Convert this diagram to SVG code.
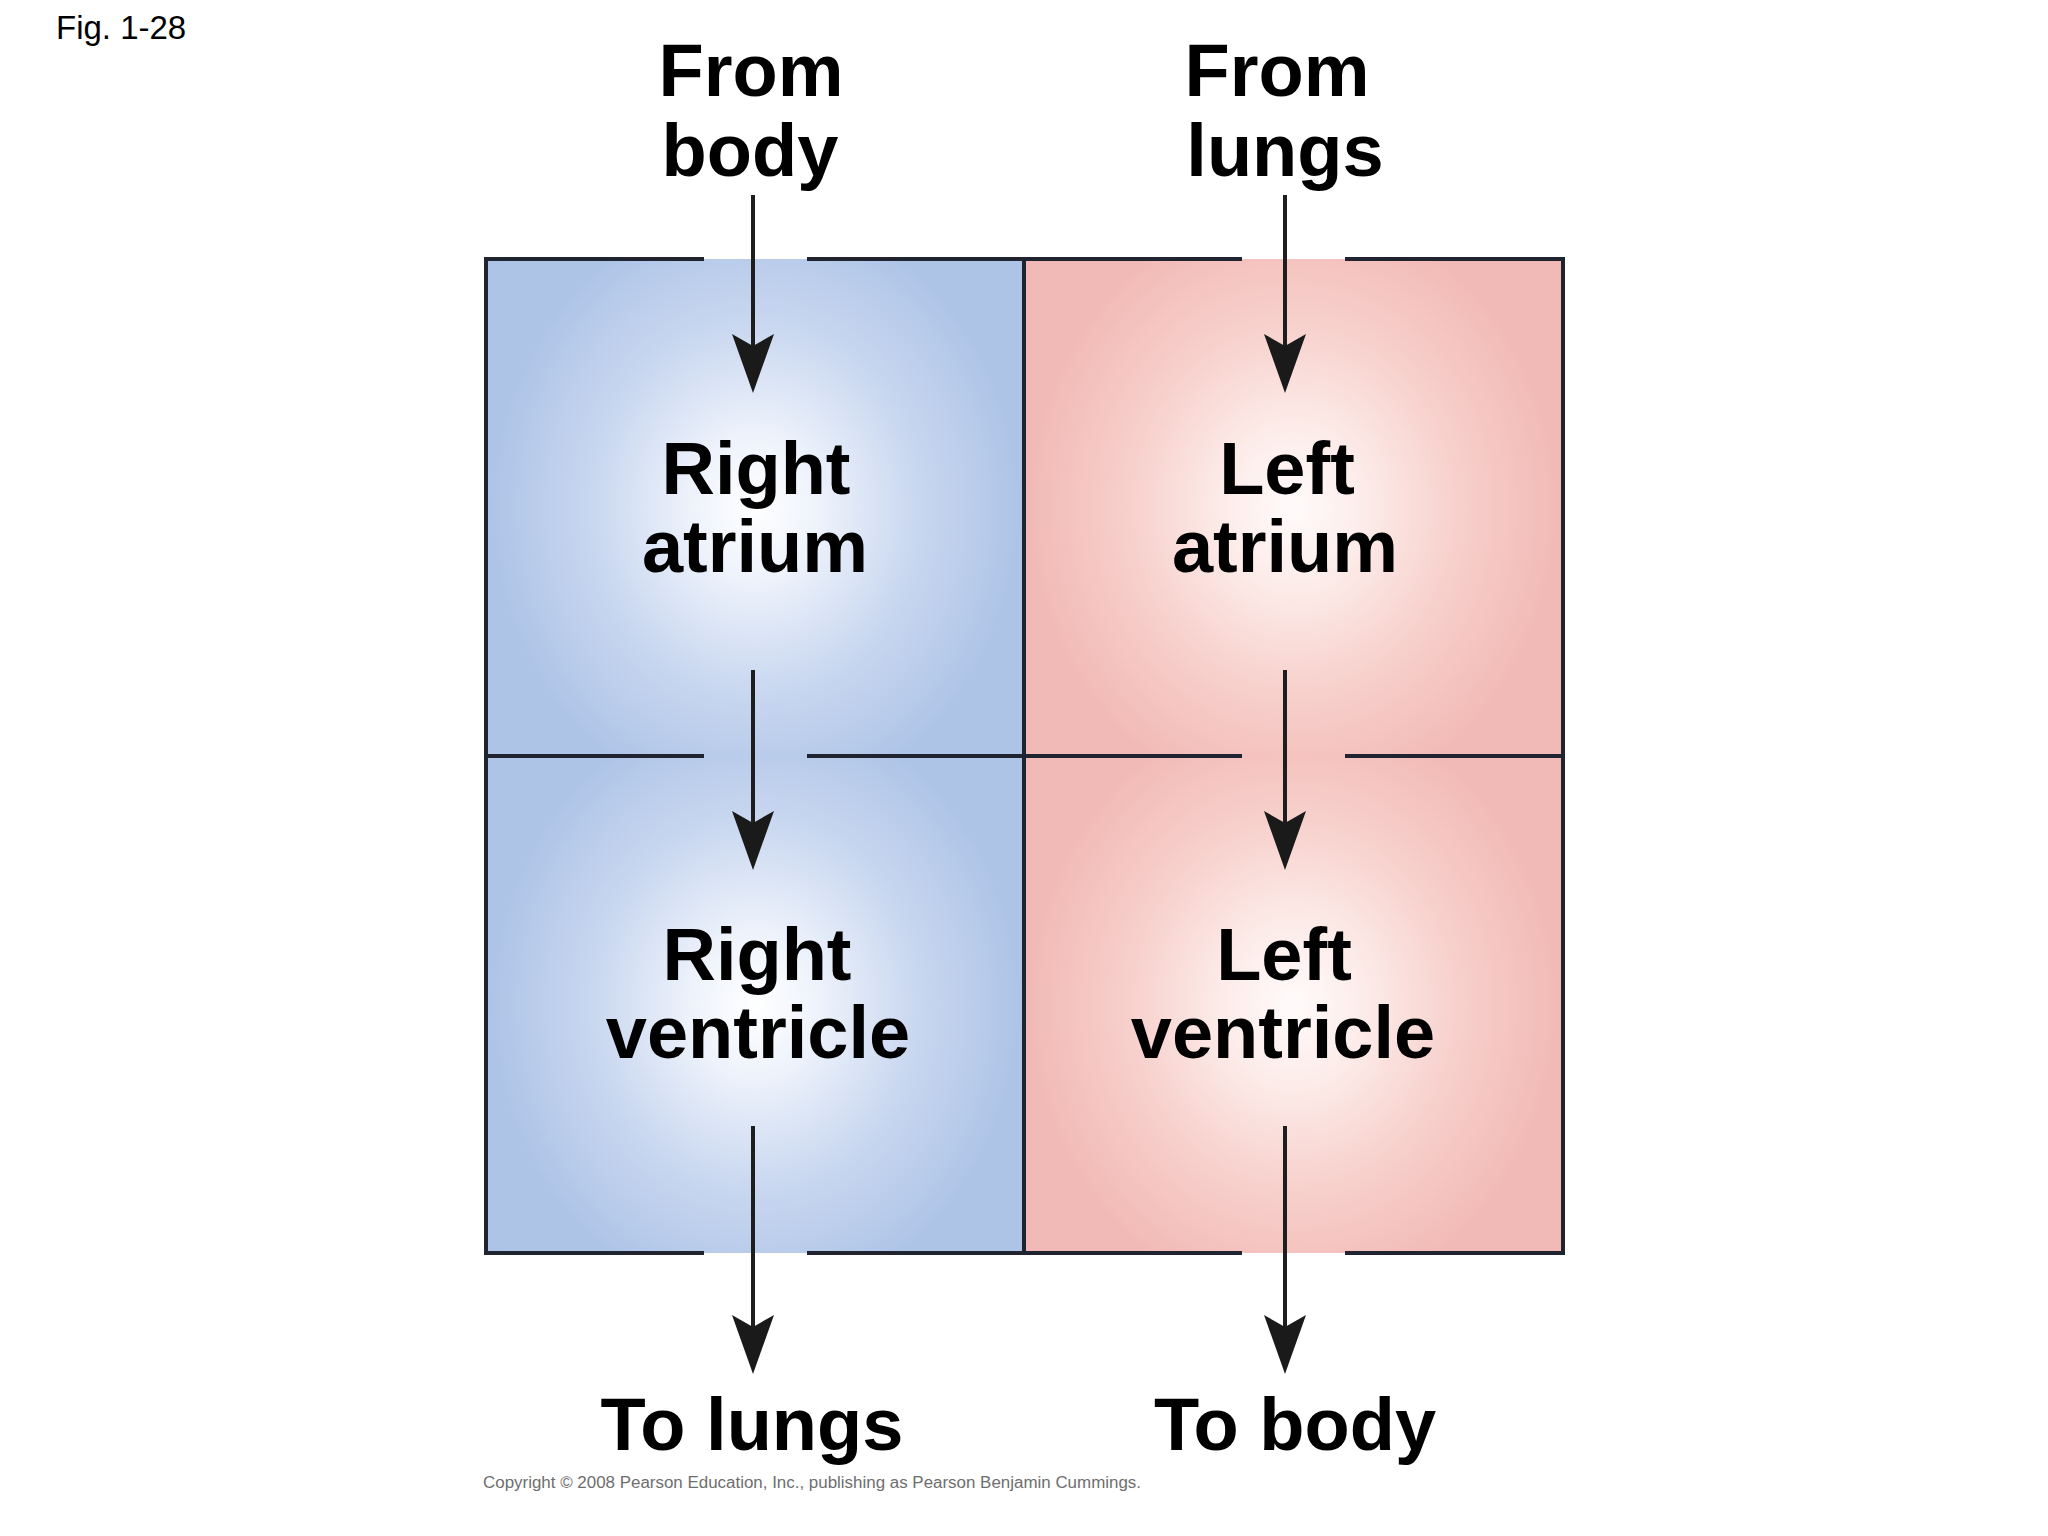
<svg xmlns="http://www.w3.org/2000/svg" width="2048" height="1536" viewBox="0 0 2048 1536">
  <style>
    .lbl { font-family: "Liberation Sans", Arial, sans-serif; font-weight: bold; font-size: 74px; fill: #000; text-anchor: middle; }
    .fig { font-family: "Liberation Sans", Arial, sans-serif; font-size: 33px; fill: #000; }
    .copy { font-family: "Liberation Sans", Arial, sans-serif; font-size: 16px; fill: #6e6e6e; }
    .border { fill: none; stroke: #1f2430; stroke-width: 4; stroke-linecap: butt; }
    .aline { stroke: #1e1e1e; stroke-width: 4; fill: none; }
    .ahead { fill: #1a1a1a; }
  </style>
  <defs>
    <radialGradient id="blueGlow" cx="0.5" cy="0.5" r="0.5" fx="0.5" fy="0.5" gradientTransform="translate(0.5 0.5) scale(0.98 1.2) translate(-0.5 -0.5)">
      <stop offset="0" stop-color="#ffffff"/>
      <stop offset="0.25" stop-color="#edf2fb"/>
      <stop offset="0.6" stop-color="#cad8f0"/>
      <stop offset="1" stop-color="#aec4e7"/>
    </radialGradient>
    <radialGradient id="pinkGlow" cx="0.5" cy="0.5" r="0.5" fx="0.5" fy="0.5" gradientTransform="translate(0.5 0.5) scale(0.98 1.2) translate(-0.5 -0.5)">
      <stop offset="0" stop-color="#fffbfb"/>
      <stop offset="0.28" stop-color="#fcebe8"/>
      <stop offset="0.62" stop-color="#f7d0cc"/>
      <stop offset="1" stop-color="#f2bab6"/>
    </radialGradient>
  </defs>
  <rect x="0" y="0" width="2048" height="1536" fill="#ffffff"/>

  <text class="fig" x="56" y="39">Fig. 1-28</text>

  <g id="right-atrium">
    <rect x="486" y="259" width="538" height="497" fill="url(#blueGlow)"/>
    <text class="lbl" x="756" y="494">Right</text>
    <text class="lbl" x="755" y="572">atrium</text>
  </g>
  <g id="left-atrium">
    <rect x="1024" y="259" width="539" height="497" fill="url(#pinkGlow)"/>
    <text class="lbl" x="1287" y="494">Left</text>
    <text class="lbl" x="1285" y="572">atrium</text>
  </g>
  <g id="right-ventricle">
    <rect x="486" y="756" width="538" height="497" fill="url(#blueGlow)"/>
    <text class="lbl" x="757" y="980">Right</text>
    <text class="lbl" x="758" y="1058">ventricle</text>
  </g>
  <g id="left-ventricle">
    <rect x="1024" y="756" width="539" height="497" fill="url(#pinkGlow)"/>
    <text class="lbl" x="1284" y="980">Left</text>
    <text class="lbl" x="1283" y="1058">ventricle</text>
  </g>

  <g id="heart-walls">
    <path class="border" d="M704,259 H486 V1253 H704 M807,1253 H1242 M1345,1253 H1563 V259 H1345 M1242,259 H807 M1024,259 V1253 M486,756 H704 M807,756 H1242 M1345,756 H1563"/>
  </g>

  <g id="from-body">
    <text class="lbl" x="751" y="96">From</text>
    <text class="lbl" x="750" y="176">body</text>
  </g>
  <g id="from-lungs">
    <text class="lbl" x="1277" y="96">From</text>
    <text class="lbl" x="1285" y="176">lungs</text>
  </g>
  <g id="to-lungs">
    <text class="lbl" x="752" y="1450">To lungs</text>
  </g>
  <g id="to-body">
    <text class="lbl" x="1295" y="1450">To body</text>
  </g>

  <g id="connectors">
    <line class="aline" x1="753" y1="195" x2="753" y2="350"/>
    <path class="ahead" d="M753,393 L732,334 L753,346 L774,334 Z"/>
    <line class="aline" x1="753" y1="670" x2="753" y2="825"/>
    <path class="ahead" d="M753,870 L732,811 L753,823 L774,811 Z"/>
    <line class="aline" x1="753" y1="1126" x2="753" y2="1330"/>
    <path class="ahead" d="M753,1374 L732,1315 L753,1327 L774,1315 Z"/>

    <line class="aline" x1="1285" y1="195" x2="1285" y2="350"/>
    <path class="ahead" d="M1285,393 L1264,334 L1285,346 L1306,334 Z"/>
    <line class="aline" x1="1285" y1="670" x2="1285" y2="825"/>
    <path class="ahead" d="M1285,870 L1264,811 L1285,823 L1306,811 Z"/>
    <line class="aline" x1="1285" y1="1126" x2="1285" y2="1330"/>
    <path class="ahead" d="M1285,1374 L1264,1315 L1285,1327 L1306,1315 Z"/>
  </g>

  <text class="copy" x="483" y="1488" textLength="658" lengthAdjust="spacingAndGlyphs">Copyright © 2008 Pearson Education, Inc., publishing as Pearson Benjamin Cummings.</text>
</svg>
